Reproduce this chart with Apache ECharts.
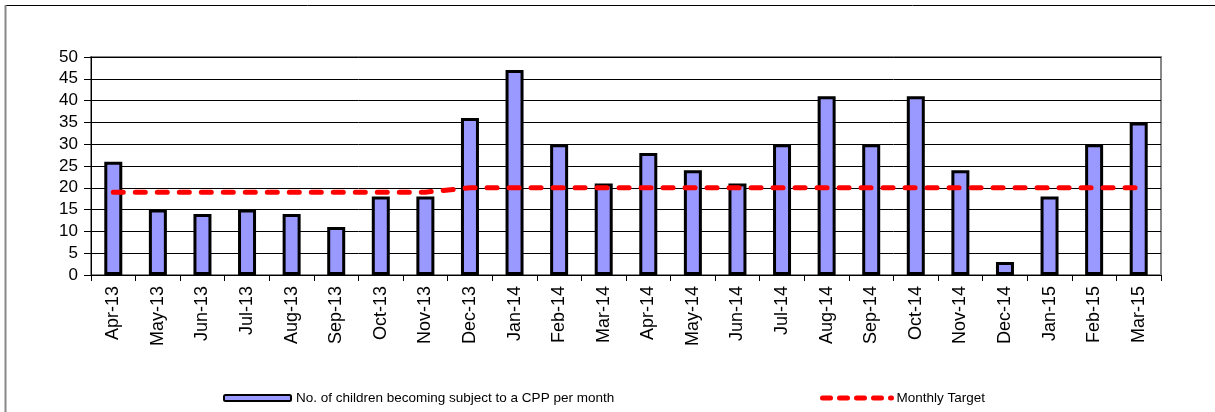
<!DOCTYPE html>
<html>
<head>
<meta charset="utf-8">
<script src="https://cdn.jsdelivr.net/npm/echarts@6/dist/echarts.min.js"></script>
<style>
  html, body { margin: 0; padding: 0; background: #fff; }
  #main { width: 1215px; height: 412px; }
</style>
</head>
<body>
<div id="main"></div>
<script>
// months Apr-13 .. Mar-15
var months = ['Apr-13', 'May-13', 'Jun-13', 'Jul-13', 'Aug-13', 'Sep-13', 'Oct-13', 'Nov-13',
  'Dec-13', 'Jan-14', 'Feb-14', 'Mar-14', 'Apr-14', 'May-14', 'Jun-14', 'Jul-14',
  'Aug-14', 'Sep-14', 'Oct-14', 'Nov-14', 'Dec-14', 'Jan-15', 'Feb-15', 'Mar-15'];
var cppCount = [26, 15, 14, 15, 14, 11, 18, 18, 36, 47, 30, 21, 28, 24, 21, 30, 41, 30, 41, 24, 3, 18, 30, 35];
var monthlyTarget = [19, 19, 19, 19, 19, 19, 19, 19, 20, 20, 20, 20, 20, 20, 20, 20, 20, 20, 20, 20, 20, 20, 20, 20];
var yTicks = { min: 0, max: 50, interval: 5 };

var barName = 'No. of children becoming subject to a CPP per month';
var lineName = 'Monthly Target';

var myChart = echarts.init(document.getElementById('main'), null, { renderer: 'canvas' });
var font = 'Arial, "Liberation Sans", sans-serif';

var option = {
  animation: false,
  textStyle: { fontFamily: font },
  grid: {
    left: 91, right: 54, top: 57, bottom: 137,
    show: true, borderColor: '#888', borderWidth: 2
  },
  legend: [
    {
      data: [barName], left: 218, top: 386,
      itemWidth: 67, itemHeight: 6, itemGap: 8,
      textStyle: { fontSize: 13.5, color: '#000', fontFamily: font }
    },
    {
      data: [lineName], left: 815, top: 386,
      itemWidth: 69, itemHeight: 6,
      itemStyle: { opacity: 0 },
      lineStyle: { color: '#FF0000', width: 5, type: [8, 9], cap: 'round' },
      textStyle: { fontSize: 13.5, color: '#000', fontFamily: font }
    }
  ],
  xAxis: {
    type: 'category',
    data: months,
    axisLine: { lineStyle: { color: '#000', width: 1 } },
    axisTick: { show: true, length: 6, lineStyle: { color: '#000' } },
    axisLabel: { rotate: 90, fontSize: 18, color: '#000', margin: 11, interval: 0, fontFamily: font },
    splitLine: { show: false }
  },
  yAxis: {
    type: 'value',
    min: yTicks.min, max: yTicks.max, interval: yTicks.interval,
    axisLine: { show: true, lineStyle: { color: '#000', width: 1 } },
    axisTick: { show: true, length: 7, lineStyle: { color: '#000' } },
    axisLabel: { fontSize: 17, color: '#000', margin: 13, fontFamily: font },
    splitLine: { show: true, lineStyle: { color: '#000', width: 1 } }
  },
  series: [
    {
      name: barName,
      type: 'bar',
      data: cppCount,
      barWidth: 18,
      itemStyle: { color: '#9999FF', borderColor: '#000', borderWidth: 3 }
    },
    {
      name: lineName,
      type: 'line',
      data: monthlyTarget,
      symbol: 'none',
      z: 5,
      lineStyle: { color: '#FF0000', width: 5, type: [10, 12], cap: 'round' },
      itemStyle: { color: '#FF0000' }
    }
  ],
  graphic: [
    { type: 'line', shape: { x1: 5, y1: 5.5, x2: 1215, y2: 5.5 }, style: { stroke: '#000', lineWidth: 1 } },
    { type: 'line', shape: { x1: 5.5, y1: 5, x2: 5.5, y2: 412 }, style: { stroke: '#888', lineWidth: 2 } }
  ]
};

option && myChart.setOption(option);
</script>
</body>
</html>
